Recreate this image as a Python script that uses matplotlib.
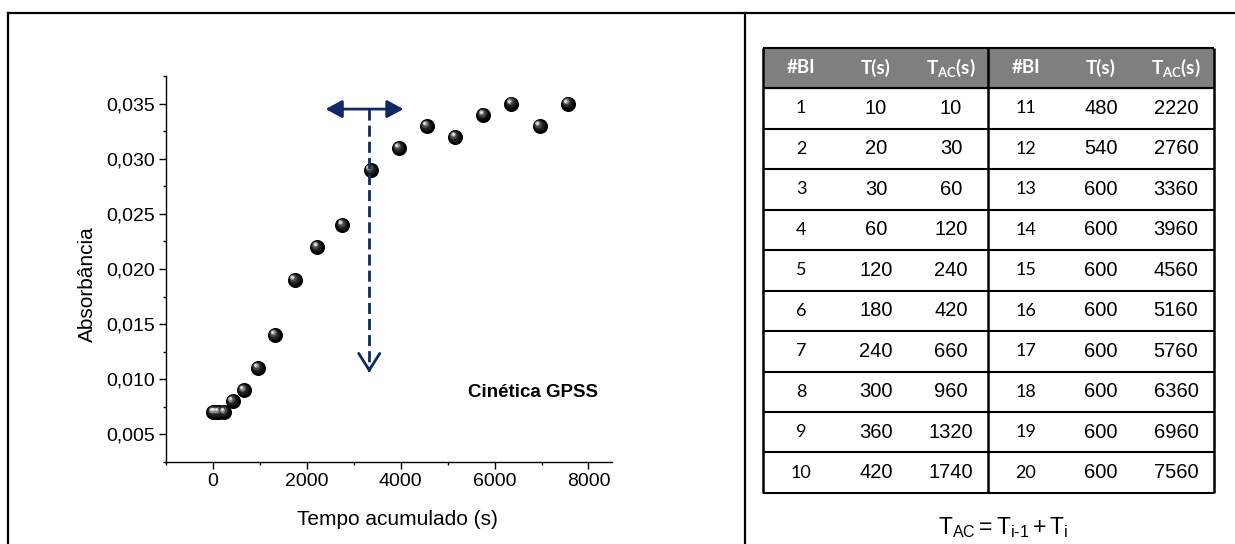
import numpy as np
import matplotlib
matplotlib.use('Agg')
import matplotlib.pyplot as plt
from matplotlib.ticker import MultipleLocator, FuncFormatter
from matplotlib.transforms import offset_copy
from matplotlib.lines import Line2D
from matplotlib.patches import Rectangle

plt.rcParams['font.family'] = ['Liberation Sans', 'DejaVu Sans']
plt.rcParams['mathtext.fontset'] = 'custom'
plt.rcParams['mathtext.rm'] = 'Liberation Sans'
plt.rcParams['mathtext.it'] = 'Liberation Sans'
plt.rcParams['mathtext.bf'] = 'Lato:bold'
plt.rcParams['lines.scale_dashes'] = False

# table data (injection number, time step, accumulated time)
bi_left = [1, 2, 3, 4, 5, 6, 7, 8, 9, 10]
t_left = [10, 20, 30, 60, 120, 180, 240, 300, 360, 420]
tac_left = [10, 30, 60, 120, 240, 420, 660, 960, 1320, 1740]
bi_right = [11, 12, 13, 14, 15, 16, 17, 18, 19, 20]
t_right = [480, 540, 600, 600, 600, 600, 600, 600, 600, 600]
tac_right = [2220, 2760, 3360, 3960, 4560, 5160, 5760, 6360, 6960, 7560]

# kinetics curve
tempo = tac_left + tac_right
absorb = [0.007, 0.007, 0.007, 0.007, 0.007, 0.008, 0.009, 0.011, 0.014, 0.019,
          0.022, 0.024, 0.029, 0.031, 0.033, 0.032, 0.034, 0.035, 0.033, 0.035]

# equilibrium marker
arrow_y = 0.0345
arrow_x0, arrow_x1 = 2400, 4060
dash_x = 3330
dash_end = 0.0106

navy = '#0d2a66'

fig = plt.figure(figsize=(12.35, 5.44), dpi=100)

# outer frame
for xs, ys in [([8, 1235], [13, 13]), ([8, 8], [13, 544]), ([745, 745], [13, 544])]:
    fig.add_artist(Line2D([x / 1235 for x in xs], [1 - y / 544 for y in ys],
                          color='black', lw=1.6, transform=fig.transFigure))

# ---- left: scatter plot ----
ax = fig.add_axes([0.1344, 0.1507, 0.3611, 0.7096])
ax.set_xlim(-1000, 8500)
ax.set_ylim(0.0025, 0.0375)
ax.spines['top'].set_visible(False)
ax.spines['right'].set_visible(False)
for s in ['left', 'bottom']:
    ax.spines[s].set_linewidth(1.0)
ax.xaxis.set_major_locator(MultipleLocator(2000))
ax.xaxis.set_minor_locator(MultipleLocator(1000))
ax.yaxis.set_major_locator(MultipleLocator(0.005))
ax.yaxis.set_minor_locator(MultipleLocator(0.0025))
ax.yaxis.set_major_formatter(FuncFormatter(lambda v, p: f'{v:.3f}'.replace('.', ',')))
ax.tick_params(which='major', direction='out', length=5, width=1.0, labelsize=14, pad=3)
ax.tick_params(which='minor', direction='out', length=2.5, width=1.0)

# sphere-like markers: black ball with a soft highlight
layers = [(117, '#000000', 0, 0), (60, '#1e1e1e', -0.7, 0.8), (30, '#474747', -1.2, 1.5),
          (13, '#8c8c8c', -1.6, 2.0), (4, '#e6e6e6', -1.8, 2.2)]
for s, c, dx, dy in layers:
    tr = offset_copy(ax.transData, fig=fig, x=dx, y=dy, units='points')
    ax.scatter(tempo, absorb, s=s, color=c, linewidths=0, transform=tr, zorder=3)

ax.annotate('', xy=(arrow_x1, arrow_y), xytext=(arrow_x0, arrow_y),
            arrowprops=dict(arrowstyle='<|-|>,head_length=0.5,head_width=0.27',
                            mutation_scale=20, color=navy, lw=2, shrinkA=0, shrinkB=0),
            zorder=4)
ax.plot([dash_x, dash_x], [arrow_y, dash_end + 0.0002], color=navy, lw=2,
        dashes=(8, 3.6), zorder=4)
ax.annotate('', xy=(dash_x, dash_end), xytext=(dash_x, dash_end + 0.0004),
            arrowprops=dict(arrowstyle='->,head_length=0.6,head_width=0.38',
                            mutation_scale=20, color=navy, lw=2, shrinkA=0, shrinkB=0),
            zorder=4)

ax.text(6820, 0.0088, 'Cinética GPSS', fontsize=13.5, fontweight='bold',
        ha='center', va='center')

ax.set_xlabel('Tempo acumulado (s)', fontsize=15)
ax.set_ylabel('Absorbância', fontsize=15)
ax.xaxis.label.set_va('center')
ax.yaxis.label.set_va('center')
ax.xaxis.set_label_coords(0.519, -0.150)
ax.yaxis.set_label_coords(-0.175, 0.462)

# ---- right: table ----
tax = fig.add_axes([0.6182, 0.0938, 0.3644, 0.8186])
tax.set_xlim(0, 6)
tax.set_ylim(11, 0)
tax.axis('off')

tax.add_patch(Rectangle((0, 0), 6, 1, color='#7f7f7f', zorder=1))
headers = ['#BI', 'T(s)', r'$\mathbf{T_{AC}(s)}$'] * 2
for i, h in enumerate(headers):
    tax.text(i + 0.5, 0.5, h, color='white', fontsize=13.5, fontweight='bold',
             family='Lato', ha='center', va='center', zorder=3)

cols = [bi_left, t_left, tac_left, bi_right, t_right, tac_right]
for i, col in enumerate(cols):
    for r, v in enumerate(col):
        if i % 3 == 0:
            tax.text(i + 0.5, r + 1.5, str(v), fontsize=13, family='Lato',
                     ha='center', va='center', zorder=3)
        else:
            tax.text(i + 0.5, r + 1.5, str(v), fontsize=14.5,
                     ha='center', va='center', zorder=3)

tax.hlines(np.arange(0, 12), 0, 6, color='black', lw=1.5, clip_on=False, zorder=2)
tax.vlines([0, 3, 6], 0, 11, color='black', lw=1.8, clip_on=False, zorder=2)

fig.text(1003 / 1235, 1 - 528 / 544,
         r'$\mathrm{T_{AC}} = \mathrm{T_{i‐1}} + \mathrm{T_i}$',
         fontsize=16.5, ha='center', va='center')

fig.savefig('out.png', dpi=100)
